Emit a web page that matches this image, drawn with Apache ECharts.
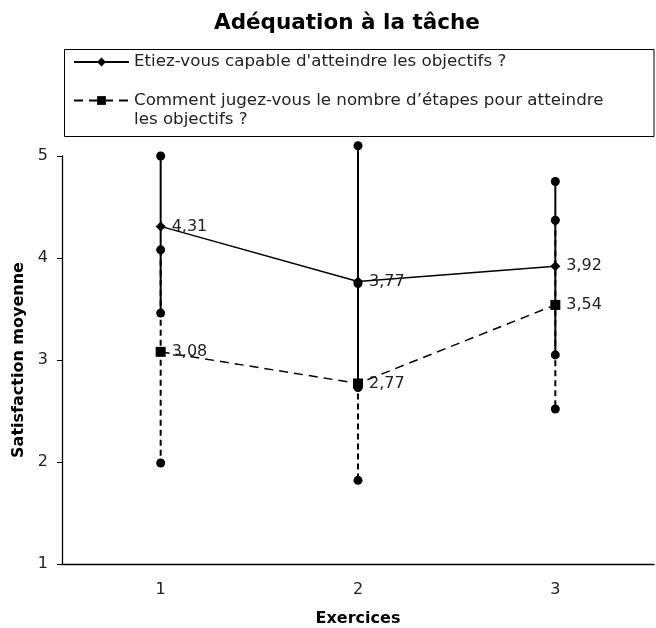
<!DOCTYPE html>
<html>
<head>
<meta charset="utf-8">
<script src="https://cdn.jsdelivr.net/npm/echarts@6/dist/echarts.min.js"></script>
<style>
  html, body { margin: 0; padding: 0; background: #fff; }
  #chart { width: 656px; height: 628px; }
</style>
</head>
<body>
<div id="chart"></div>
<script>
// Exercises on the x axis
const categories = ['1', '2', '3'];

// Mean satisfaction per exercise
const objectifs = [4.31, 3.77, 3.92];
const etapes = [3.08, 2.77, 3.54];

// Spread around each mean (low / high ends of the bars)
const objectifsLow = [3.46, 2.73, 3.05];
const objectifsHigh = [5.0, 5.1, 4.75];
const etapesLow = [1.99, 1.82, 2.52];
const etapesHigh = [4.08, 3.75, 4.37];

// Value axis ticks
const yTicks = [1, 2, 3, 4, 5];

const nameObjectifs = "Etiez-vous capable d'atteindre les objectifs ?";
const nameEtapes = "Comment jugez-vous le nombre d\u2019étapes pour atteindre\nles objectifs ?";

const FONT = 'DejaVu Sans';
const TEXT_SIZE = 16.7;

function frenchNumber(v) {
  return v.toFixed(2).replace('.', ',');
}

function rangeData(low, high) {
  return categories.map((c, i) => [i, low[i], high[i]]);
}

function makeRangeRenderer(dashed) {
  return function (params, api) {
    const x = api.value(0);
    const top = api.coord([x, api.value(2)]);
    const bottom = api.coord([x, api.value(1)]);
    const stroke = { stroke: '#000', lineWidth: 2 };
    if (dashed) stroke.lineDash = [6, 4];
    return {
      type: 'group',
      children: [
        { type: 'line', shape: { x1: top[0], y1: top[1], x2: bottom[0], y2: bottom[1] }, style: stroke },
        { type: 'circle', shape: { cx: top[0], cy: top[1], r: 4.5 }, style: { fill: '#000' } },
        { type: 'circle', shape: { cx: bottom[0], cy: bottom[1], r: 4.5 }, style: { fill: '#000' } }
      ]
    };
  };
}

const legendText = { fontFamily: FONT, fontSize: TEXT_SIZE, lineHeight: 19, color: '#222' };

const chart = echarts.init(document.getElementById('chart'), null, { renderer: 'canvas' });

chart.setOption({
  animation: false,
  backgroundColor: '#fff',
  textStyle: { fontFamily: FONT, color: '#000' },
  title: {
    text: 'Adéquation à la tâche',
    left: 209,
    top: 7,
    textStyle: { fontFamily: FONT, fontSize: 21.5, fontWeight: 'bold', color: '#000' }
  },
  graphic: [{
    type: 'rect',
    shape: { x: 64.5, y: 49.5, width: 589.5, height: 87 },
    style: { fill: 'none', stroke: '#000', lineWidth: 1 },
    silent: true
  }],
  legend: [{
    left: 73,
    top: 52.5,
    padding: 0,
    itemWidth: 55,
    itemHeight: 11,
    data: [nameObjectifs],
    textStyle: legendText
  }, {
    // leading blank line keeps the icon level with the first text line
    left: 73,
    top: 72,
    padding: 0,
    itemWidth: 55,
    itemHeight: 11,
    data: [nameEtapes],
    formatter: name => '\n' + name,
    textStyle: legendText
  }],
  grid: { left: 62, right: 2, top: 156, bottom: 64, containLabel: false, outerBoundsMode: 'none' },
  xAxis: {
    type: 'category',
    data: categories,
    name: 'Exercices',
    nameLocation: 'middle',
    nameGap: 47,
    nameTextStyle: { fontFamily: FONT, fontSize: 16, fontWeight: 'bold', color: '#000' },
    axisLine: { lineStyle: { color: '#000', width: 1.3 } },
    axisTick: { length: 5, lineStyle: { color: '#000' } },
    axisLabel: { margin: 18, fontFamily: FONT, fontSize: 16, color: '#222' },
    splitLine: { show: false }
  },
  yAxis: {
    type: 'value',
    min: yTicks[0],
    max: yTicks[yTicks.length - 1],
    interval: 1,
    name: 'Satisfaction moyenne',
    nameLocation: 'middle',
    nameGap: 31,
    nameTextStyle: { fontFamily: FONT, fontSize: 16, fontWeight: 'bold', color: '#000' },
    axisLine: { show: true, lineStyle: { color: '#000', width: 1.3 } },
    axisTick: { show: true, length: 5, lineStyle: { color: '#000' } },
    axisLabel: { margin: 14, fontFamily: FONT, fontSize: 16, color: '#222' },
    splitLine: { show: false }
  },
  series: [{
    name: nameObjectifs,
    type: 'line',
    data: objectifs,
    symbol: 'diamond',
    symbolSize: 10,
    itemStyle: { color: '#000' },
    lineStyle: { color: '#000', width: 1.5 },
    label: {
      show: true, position: 'right', distance: 6,
      fontFamily: FONT, fontSize: 16, color: '#222',
      formatter: p => frenchNumber(p.value)
    },
    z: 3
  }, {
    name: nameEtapes,
    type: 'line',
    data: etapes,
    symbol: 'rect',
    symbolSize: 10,
    itemStyle: { color: '#000' },
    lineStyle: { color: '#000', width: 1.5, type: [9, 6] },
    label: {
      show: true, position: 'right', distance: 6,
      fontFamily: FONT, fontSize: 16, color: '#222',
      formatter: p => frenchNumber(p.value)
    },
    z: 3
  }, {
    name: 'objectifs-range',
    type: 'custom',
    data: rangeData(objectifsLow, objectifsHigh),
    encode: { x: 0, y: [1, 2] },
    renderItem: makeRangeRenderer(false),
    clip: false,
    silent: true,
    z: 4
  }, {
    name: 'etapes-range',
    type: 'custom',
    data: rangeData(etapesLow, etapesHigh),
    encode: { x: 0, y: [1, 2] },
    renderItem: makeRangeRenderer(true),
    clip: false,
    silent: true,
    z: 4
  }]
});
</script>
</body>
</html>
